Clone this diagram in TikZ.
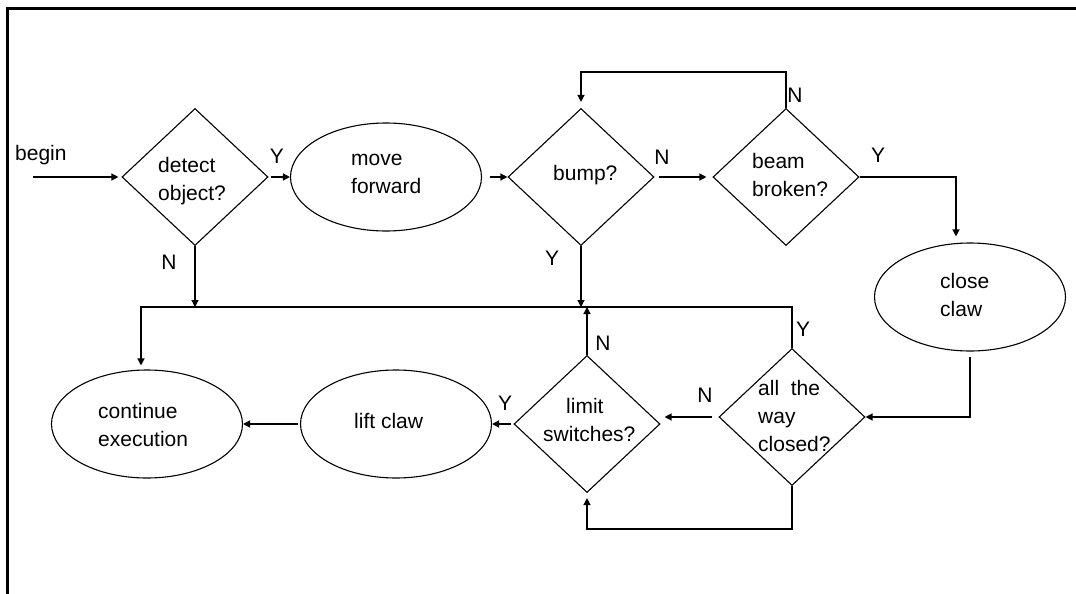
\documentclass[tikz,border=0pt]{standalone}
\usepackage{fontspec}
\setmainfont{Liberation Sans}
\usetikzlibrary{shapes.geometric,arrows.meta}
\begin{document}
\begin{tikzpicture}[x=1pt,y=-1pt,
  dia/.style={draw,diamond,minimum width=146pt,minimum height=137pt,inner sep=0pt,line width=1.1pt},
  ell/.style={draw,ellipse,minimum width=191pt,minimum height=108pt,inner sep=0pt,line width=1.1pt},
  txt/.style={anchor=base west,align=left,inner sep=0pt,font=\fontsize{21}{28}\selectfont},
  lbl/.style={inner sep=0pt,font=\fontsize{21}{24}\selectfont},
  arr/.style={line width=1.3pt,-{Triangle[length=7pt,width=7pt]}},
  ln/.style={line width=1.3pt}]
\path[use as bounding box] (0,0) rectangle (1076,594);
\draw[line width=3pt] (7,594) -- (7,9) -- (1076,9);

% shapes
\node[dia] (d1) at (195,177) {};
\node[ell] (e1) at (386,177) {};
\node[dia] (d2) at (581,177) {};
\node[dia] (d3) at (786,177) {};
\node[ell] (e2) at (970,297) {};
\node[dia] (d4) at (792,417) {};
\node[dia] (d5) at (587,424) {};
\node[ell] (e3) at (396,424) {};
\node[ell] (e4) at (147,424) {};

% texts (anchor = baseline of last line)
\node[txt] (tb) at (15,160) {begin};
\node[txt] (t1) at (158,200) {detect\\object?};
\node[txt] (t2) at (351,193) {move\\forward};
\node[txt] (t3) at (553,180) {bump?};
\node[txt] (t4) at (752,196) {beam\\broken?};
\node[txt] (t5) at (940,316) {close\\claw};
\node[txt] (t6) at (758,451) {all\ \ the\\way\\closed?};
\node[txt] (t7) at (543,441) {\hspace{23pt}limit\\switches?};
\node[txt] (t8) at (354,428) {lift claw};
\node[txt] (t9) at (98,446) {continue\\execution};

% Y/N labels
\node[lbl] (l1) at (277,156) {Y};
\node[lbl] (l2) at (169,262) {N};
\node[lbl] (l3) at (662,157) {N};
\node[lbl] (l4) at (552,258) {Y};
\node[lbl] (l5) at (795,95) {N};
\node[lbl] (l6) at (878,155) {Y};
\node[lbl] (l7) at (803,329) {Y};
\node[lbl] (l8) at (603,343) {N};
\node[lbl] (l9) at (705,395) {N};
\node[lbl] (l10) at (505,403) {Y};

% helper coordinates
\coordinate (b0) at (33,177);
\coordinate (top) at (0,72);
\coordinate (rt) at (956,0);
\coordinate (bus) at (0,307);
\coordinate (busL) at (141,307);
\coordinate (bot) at (0,529);

% connectors
\draw[arr,shorten >=3pt] (b0) -- (d1.west);
\draw[arr,shorten <=2pt] (d1.east) -- (e1.west);
\draw[arr,shorten <=8pt] (e1.east) -- (d2.west);
\draw[arr,shorten <=4pt,shorten >=6pt] (d2.east) -- (d3.west);
\draw[arr,shorten >=6pt] (d3.north) -- (d3.north |- top) -- (d2.north |- top) -- (d2.north);
\draw[arr,shorten >=6pt] (d3.east) -| (rt |- e2.north);
\draw[arr,shorten <=5pt] (e2.south) -- (e2.south |- d4.east) -- (d4.east);
\draw[arr,shorten >=4pt] (d4.north) -- (d4.north |- busL) -- (busL) -- (busL |- e4.north);
\draw[arr] (d1.south) -- (d1.south |- bus);
\draw[arr] (d2.south) -- (d2.south |- bus);
\draw[arr] (d5.north) -- (d5.north |- bus);
\draw[arr,shorten <=6pt,shorten >=4pt] (d4.west) -- (d4.west -| d5.east);
\draw[arr,shorten >=5pt] (d4.south) -- (d4.south |- bot) -- (d5.south |- bot) -- (d5.south);
\draw[arr,shorten <=2pt] (d5.west) -- (e3.east);
\draw[arr,shorten <=2pt] (e3.west) -- (e4.east);
\end{tikzpicture}
\end{document}
